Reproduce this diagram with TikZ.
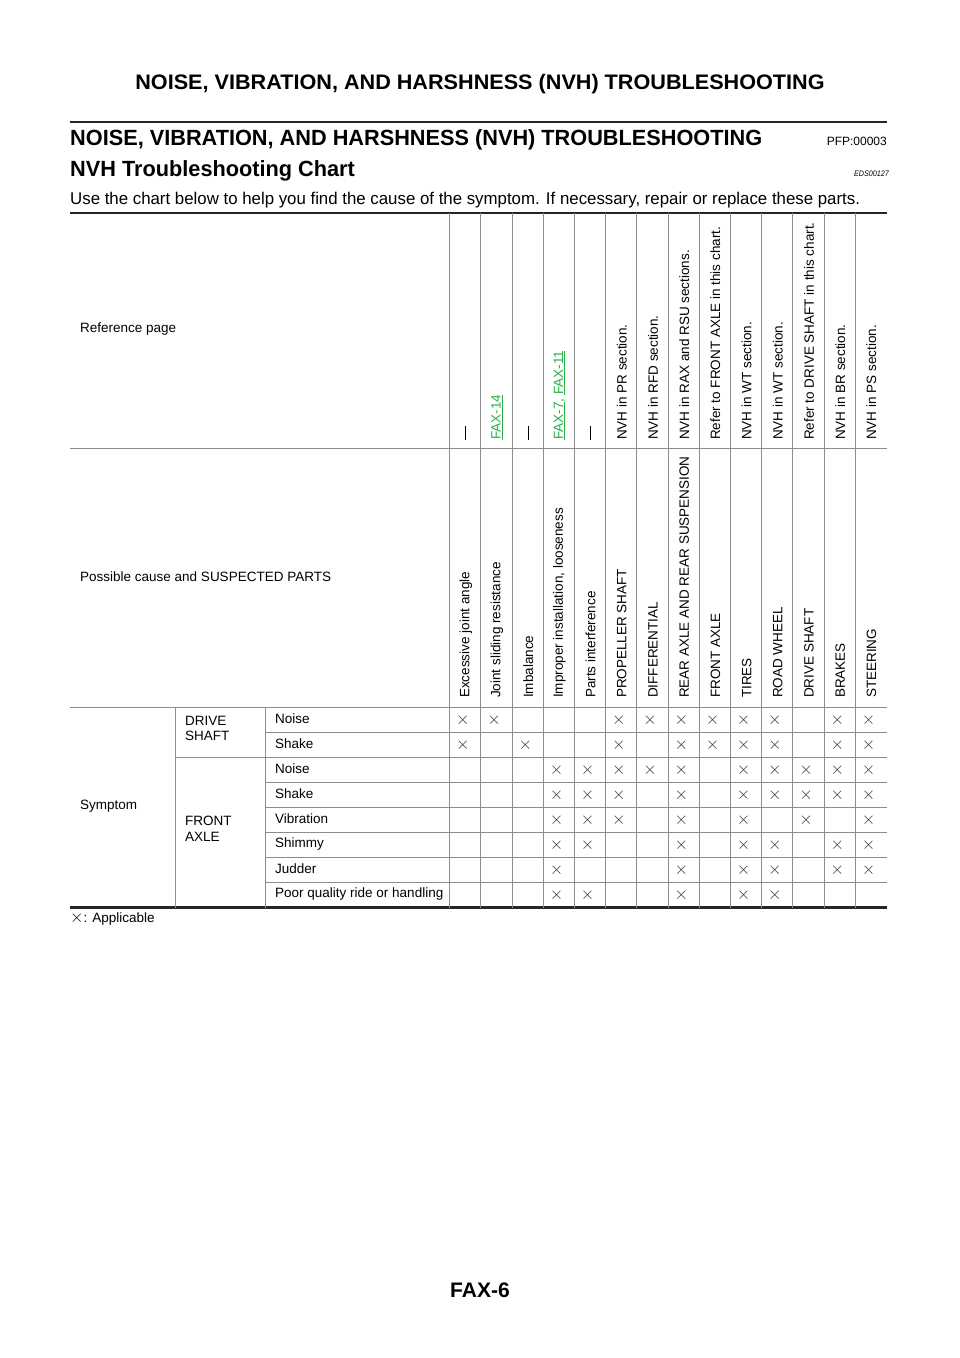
\documentclass[tikz,border=0pt]{standalone}
\usepackage{fontspec}
\setmainfont{Liberation Sans}
\begin{document}
\begin{tikzpicture}[x=1pt,y=-1pt,
  txt/.style={inner sep=0pt,font=\fontsize{13.5}{15.5}\selectfont},
  rot/.style={txt,rotate=90,anchor=west},
  mk/.style={inner sep=0pt,font=\fontsize{16}{16}\selectfont,text=black!80},
  grid/.style={black!45,line width=0.9pt},
  thick rule/.style={black!85,line width=2.2pt}]
\useasboundingbox (0,0) rectangle (960,1358);
\definecolor{lnk}{RGB}{40,175,70}
\node[inner sep=0pt,xscale=1.03,font=\fontsize{21}{21}\selectfont\bfseries] (h) at (480,84) {NOISE, VIBRATION, AND HARSHNESS (NVH) TROUBLESHOOTING};
\draw[thick rule] (70,122) -- (887,122);
\node[inner sep=0pt,anchor=base west,xscale=0.987,font=\fontsize{22}{22}\selectfont\bfseries] (t1) at (70,145) {NOISE, VIBRATION, AND HARSHNESS (NVH) TROUBLESHOOTING};
\node[inner sep=0pt,anchor=base east,font=\fontsize{12}{12}\selectfont] (pfp) at (887,145) {PFP:00003};
\node[inner sep=0pt,anchor=base west,xscale=0.987,font=\fontsize{22}{22}\selectfont\bfseries] (t2) at (70,176) {NVH Troubleshooting Chart};
\node[inner sep=0pt,anchor=base east,xscale=0.9,font=\fontsize{8}{8}\selectfont\itshape] (eds) at (889,176) {EDS00127};
\node[inner sep=0pt,anchor=base west,xscale=0.99,font=\fontsize{17}{17}\selectfont] (intro) at (70,204) {Use the chart below to help you find the cause of the symptom. If necessary, repair or replace these parts.};
% table grid
\draw[thick rule] (70,213) -- (887,213);
\draw[grid] (70,448) -- (887,448);
\draw[grid] (70,707.5) -- (887,707.5);
\foreach \y in {732.5,757.5,782.5,807.5,832.5,857.5,882.5} \draw[grid] (265.5,\y) -- (887,\y);
\draw[grid] (175.5,757.5) -- (265.5,757.5);
\draw[thick rule] (70,907.5) -- (887,907.5);
\draw[grid] (175.5,707.5) -- (175.5,907.5);
\draw[grid] (265.5,707.5) -- (265.5,907.5);
\foreach \i in {0,...,13} \draw[grid] ({449.7+31.2*\i},213) -- ({449.7+31.2*\i},907.5);
% left labels
\node[txt,anchor=west] (rp) at (80,329) {Reference page};
\node[txt,anchor=west] (pc) at (80,577) {Possible cause and SUSPECTED PARTS};
\node[txt,anchor=west] (sy) at (80,806) {Symptom};
\node[txt,anchor=north west,align=left] (ds) at (185,716) {DRIVE\\SHAFT};
\node[txt,anchor=north west,align=left] (fa) at (185,816) {FRONT\\AXLE};
\foreach \n/\l in {0/Noise,1/Shake,2/Noise,3/Shake,4/Vibration,5/Shimmy,6/Judder,7/Poor quality ride or handling}
  \node[txt,anchor=west] (s\n) at (275,{719+25*\n}) {\l};
% reference row
\foreach \i/\l in {1/{\rule{14pt}{0.8pt}},2/{\color{lnk}\underline{FAX-14}},3/{\rule{14pt}{0.8pt}},4/{\color{lnk}\underline{FAX-7}, \underline{FAX-11}},5/{\rule{14pt}{0.8pt}},
  6/NVH in PR section.,7/NVH in RFD section.,8/NVH in RAX and RSU sections.,9/Refer to FRONT AXLE in this chart.,
  10/NVH in WT section.,11/NVH in WT section.,12/Refer to DRIVE SHAFT in this chart.,13/NVH in BR section.,14/NVH in PS section.}
  \node[rot] (r\i) at ({449.7+31.2*\i-15.1},440) {\l};
\foreach \i/\l in {1/Excessive joint angle,2/Joint sliding resistance,3/Imbalance,4/{Improper installation, looseness},5/Parts interference,
  6/PROPELLER SHAFT,7/DIFFERENTIAL,8/REAR AXLE AND REAR SUSPENSION,9/FRONT AXLE,10/TIRES,11/ROAD WHEEL,12/DRIVE SHAFT,13/BRAKES,14/STEERING}
  \node[rot] (p\i) at ({449.7+31.2*\i-15.1},698) {\l};
% marks
\foreach \r/\cols in {0/{1,2,6,7,8,9,10,11,13,14},1/{1,3,6,8,9,10,11,13,14},2/{4,5,6,7,8,10,11,12,13,14},3/{4,5,6,8,10,11,12,13,14},
  4/{4,5,6,8,10,12,14},5/{4,5,8,10,11,13,14},6/{4,8,10,11,13,14},7/{4,5,8,10,11}}
  \foreach \c in \cols \node[mk] (m\r-\c) at ({449.7+31.2*\c-18},{720+25*\r}) {$\times$};
\node[txt,anchor=west] (leg) at (70,919) {{\fontsize{16}{16}\selectfont$\times$}: Applicable};
\node[inner sep=0pt,font=\fontsize{21}{21}\selectfont\bfseries] (ft) at (480,1290) {FAX-6};
\end{tikzpicture}
\end{document}
